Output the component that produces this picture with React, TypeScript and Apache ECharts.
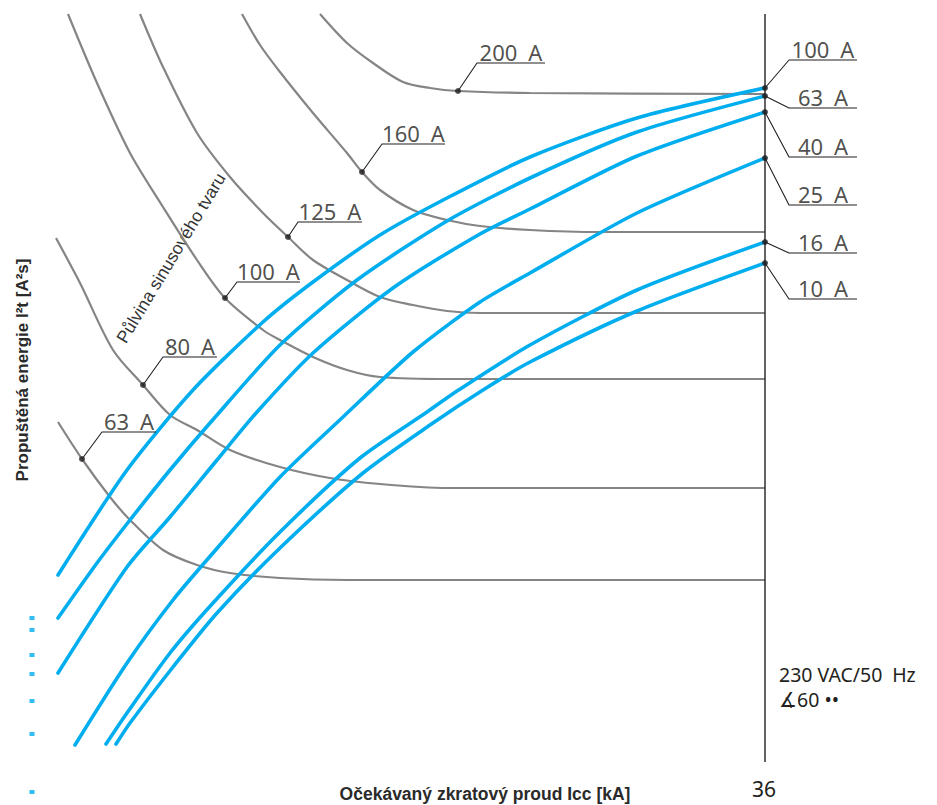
import React, { useEffect, useRef } from "react";
import * as echarts from "echarts";

// ---- Fuse let-through curves (blue), [Icc, I²t] in chart units ----
const fuse100A = [[0.65,19.0],[4.1,29.5],[7.4,37.5],[10.9,44.3],[13.4,48.3],[16.75,53.0],[20.1,56.7],[24.25,60.8],[29.6,64.7],[36,67.7]];
const fuse63A = [[0.65,14.7],[2.6,20.2],[4.25,24.5],[6.25,29.5],[8.25,34.2],[11.75,42.0],[15.6,48.5],[20.1,54.4],[24.25,58.7],[29.6,63.3],[36,66.9]];
const fuse40A = [[0.65,9.2],[4.1,19.8],[6.25,24.8],[8.6,30.5],[10.6,35.3],[13.4,41.2],[17.4,47.7],[21.75,53.1],[24.25,55.6],[29.6,60.9],[36,65.3]];
const fuse25A = [[1.5,2.0],[4.1,10.2],[6.4,16.5],[8.4,21.2],[11.75,28.8],[14.9,34.8],[18.4,41.3],[21.75,46.3],[24.25,49.2],[29.6,55.2],[36,60.7]];
const fuse16A = [[3.05,2.1],[4.1,5.2],[6.25,11.2],[8.4,16.2],[11.75,23.3],[15.75,30.7],[19.1,35.3],[20.6,37.4],[24.25,42.0],[29.6,47.5],[36,52.3]];
const fuse10A = [[3.55,2.1],[4.25,4.2],[6.4,9.8],[8.6,15.2],[11.75,21.7],[15.9,29.2],[19.25,34.0],[21.9,37.5],[24.25,40.3],[29.6,45.4],[36,50.2]];

// ---- Half-sine reference curves (grey) ----
const sine200A = [[13.75,75.1],[15.1,72.2],[16.4,70.2],[17.9,68.3],[19.25,67.7],[20.65,67.4],[24.25,67.2],[36,67.1]];
const sine160A = [[9.85,75.1],[10.75,72.0],[11.75,69.3],[13.4,65.2],[15.1,61.2],[15.85,59.3],[16.75,57.5],[18.4,55.5],[20.1,54.5],[21.75,53.9],[24.25,53.5],[27.75,53.3],[36,53.3]];
const sine125A = [[4.75,75.1],[5.9,69.8],[7.6,63.2],[9.25,58.8],[10.9,55.2],[12.15,52.8],[13.4,50.5],[15.1,48.5],[16.75,46.8],[18.4,46.0],[20.1,45.4],[21.75,45.2],[36,45.2]];
const sine100A = [[1.15,75.1],[2.6,68.2],[4.25,61.2],[5.9,55.8],[7.6,50.5],[9.0,46.7],[10.9,43.5],[11.75,42.5],[13.4,40.8],[15.1,39.5],[16.75,38.8],[20.25,38.6],[36,38.6]];
const sine80A = [[0.55,52.7],[1.75,48.2],[3.4,41.5],[4.9,38.0],[6.25,35.0],[7.6,33.5],[9.25,31.5],[11.75,29.8],[14.25,28.7],[16.75,28.1],[20.1,27.7],[36,27.7]];
const sine63A = [[0.65,34.3],[1.85,30.6],[3.25,26.8],[4.25,24.5],[5.9,21.5],[7.6,20.0],[9.25,19.2],[11.75,18.7],[15.1,18.5],[36,18.5]];

// small blue marks at the left edge (I²t values)
const leftMarkValues = [14.7, 13.5, 11.0, 9.1, 6.4, 3.1, -2.7];

const ICC_MAX = 36;
const I2T_TOP = 75.1;
const I2T_BOTTOM = 0.3;

// ---- annotation callouts: text, point on curve, knee, end of underline ----
const callouts = [
  { text: "200\u2002A", dot: [20.65, 67.4], knee: [21.6, 70.2], end: [25.0, 70.2] },
  { text: "160\u2002A", dot: [15.85, 59.3], knee: [16.85, 62.1], end: [20.0, 62.1] },
  { text: "125\u2002A", dot: [12.15, 52.8], knee: [12.65, 54.3], end: [15.85, 54.3] },
  { text: "100\u2002A", dot: [9.0, 46.7], knee: [9.6, 48.3], end: [12.75, 48.3] },
  { text: "80\u2002A", dot: [4.9, 38.0], knee: [5.9, 40.8], end: [8.6, 40.8] },
  { text: "63\u2002A", dot: [1.85, 30.6], knee: [2.85, 33.3], end: [5.55, 33.3] },
  { text: "100\u2002A", dot: [36, 67.7], knee: [37.2, 70.5], end: [40.6, 70.5] },
  { text: "63\u2002A", dot: [36, 66.9], knee: [37.2, 65.7], end: [40.6, 65.7] },
  { text: "40\u2002A", dot: [36, 65.3], knee: [37.2, 60.8], end: [40.6, 60.8] },
  { text: "25\u2002A", dot: [36, 60.7], knee: [37.2, 56.0], end: [40.6, 56.0] },
  { text: "16\u2002A", dot: [36, 52.3], knee: [37.2, 51.2], end: [40.6, 51.2] },
  { text: "10\u2002A", dot: [36, 50.2], knee: [37.2, 46.6], end: [40.6, 46.6] },
];

const BLUE = "#00aeef";
const GREY = "#858585";
const INK = "#231f20";

export default function App() {
  const ref = useRef<HTMLDivElement>(null);
  useEffect(() => {
    document.body.style.margin = "0";
    const chart = echarts.init(ref.current!, null, { renderer: "svg" });

    const blue = [fuse100A, fuse63A, fuse40A, fuse25A, fuse16A, fuse10A].map((d, i) => ({
      type: "line", name: "fuse" + i, data: d, symbol: "none", smooth: 0.25, z: 3,
      lineStyle: { color: BLUE, width: 3.6, cap: "round" },
    }));
    const grey = [sine200A, sine160A, sine125A, sine100A, sine80A, sine63A].map((d, i) => ({
      type: "line", name: "sine" + i, data: d, symbol: "none", smooth: 0.3, z: 2,
      lineStyle: { color: GREY, width: 2.2 },
    }));
    const leaders = callouts.map((c, i) => ({
      type: "line", name: "leader" + i, data: [c.dot, c.knee, c.end], symbol: "none", z: 4,
      lineStyle: { color: INK, width: 1.1 },
    }));

    chart.setOption({
      animation: false,
      grid: { left: 25, right: 12, top: 5, bottom: 0 },
      xAxis: { type: "value", min: -1, max: 44, show: false },
      yAxis: { type: "value", min: -4, max: 76, show: false },
      series: [
        ...grey,
        ...blue,
        {
          type: "line", name: "limit", data: [[ICC_MAX, I2T_TOP], [ICC_MAX, I2T_BOTTOM]],
          symbol: "none", z: 5, lineStyle: { color: INK, width: 1.4 },
        },
        ...leaders,
        {
          type: "scatter", name: "dots", z: 6, symbol: "circle", symbolSize: 6,
          itemStyle: { color: INK },
          data: callouts.map((c) => c.dot),
        },
        {
          type: "scatter", name: "calloutText", z: 6, symbolSize: 1,
          itemStyle: { color: "transparent" },
          data: callouts.map((c) => ({ name: c.text, value: [(c.knee[0] + c.end[0]) / 2, c.end[1]] })),
          label: {
            show: true, position: "top", distance: 0, formatter: "{b}",
            fontFamily: "Noto Sans", fontSize: 22, color: INK,
          },
        },
        {
          type: "scatter", name: "leftMarks", z: 6, symbol: "rect", symbolSize: [5, 4],
          itemStyle: { color: BLUE },
          data: leftMarkValues.map((v) => [-0.65, v]),
        },
      ],
      graphic: [
        {
          type: "text", x: 22, y: 370, rotation: Math.PI / 2,
          style: {
            text: "Propuštěná energie I²t [A²s]", fontFamily: "Liberation Sans", fontWeight: "bold",
            fontSize: 17, fill: "#2a2a2a", textAlign: "center", textVerticalAlign: "middle",
          },
        },
        {
          type: "text", x: 485, y: 794,
          style: {
            text: "Očekávaný zkratový proud Icc [kA]", fontFamily: "Liberation Sans", fontWeight: "bold",
            fontSize: 17.5, fill: "#2a2a2a", textAlign: "center", textVerticalAlign: "middle",
          },
        },
        {
          type: "text", x: 764, y: 789,
          style: { text: "36", fontFamily: "Noto Sans", fontSize: 21, fill: INK, textAlign: "center", textVerticalAlign: "middle" },
        },
        {
          type: "text", x: 779, y: 674,
          style: { text: "230 VAC/50\u2002Hz", fontFamily: "Noto Sans", fontSize: 19.5, fill: INK, textAlign: "left", textVerticalAlign: "middle" },
        },
        {
          type: "text", x: 779, y: 699,
          style: { text: "∡60 ••", fontFamily: "Noto Sans", fontSize: 19.5, fill: INK, textAlign: "left", textVerticalAlign: "middle" },
        },
        {
          type: "text", x: 171, y: 258, rotation: (59 * Math.PI) / 180,
          style: {
            text: "Půlvina sinusového tvaru", fontFamily: "Liberation Sans", fontSize: 17.5, fill: "#333",
            textAlign: "center", textVerticalAlign: "middle",
          },
        },
      ],
    });
    return () => chart.dispose();
  }, []);
  return <div ref={ref} style={{ position: "absolute", left: 0, top: 0, width: 937, height: 805 }} />;
}
